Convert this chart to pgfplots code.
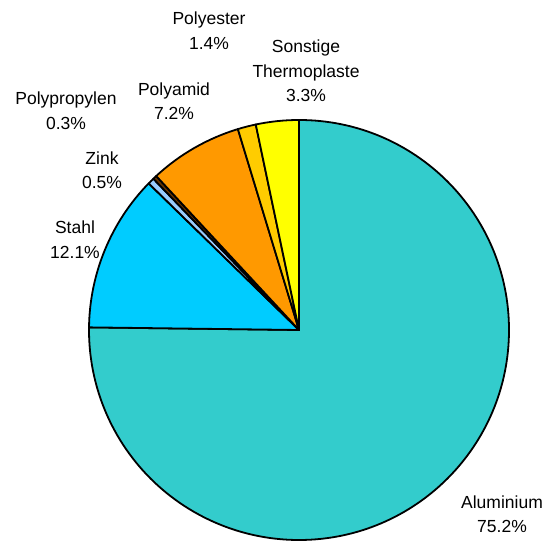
\documentclass[border=0pt]{standalone}
\usepackage{pgfplots}
\pgfplotsset{compat=1.18}
\usepackage{pgfplotstable}
\usepackage{fontspec}
\setmainfont{Liberation Sans}
\definecolor{cAl}{HTML}{33CCCC}
\definecolor{cSt}{HTML}{00CCFF}
\definecolor{cZn}{HTML}{99CCFF}
\definecolor{cPP}{HTML}{663300}
\definecolor{cPA}{HTML}{FF9900}
\definecolor{cPE}{HTML}{FFCC00}
\definecolor{cSo}{HTML}{FFFF00}
\pgfplotstableread{
name value
Aluminium 75.2
Stahl 12.1
Zink 0.5
Polypropylen 0.3
Polyamid 7.2
Polyester 1.4
Sonstige 3.3
}\piedata
\newcommand\getval[2]{\pgfplotstablegetelem{#1}{value}\of\piedata\global\let#2\pgfplotsretval}
\getval{0}\vA\getval{1}\vB\getval{2}\vC\getval{3}\vD\getval{4}\vE\getval{5}\vF\getval{6}\vG
\pgfmathsetmacro\aA{90}
\pgfmathsetmacro\aB{\aA-3.6*\vA}
\pgfmathsetmacro\aC{\aB-3.6*\vB}
\pgfmathsetmacro\aD{\aC-3.6*\vC}
\pgfmathsetmacro\aE{\aD-3.6*\vD}
\pgfmathsetmacro\aF{\aE-3.6*\vE}
\pgfmathsetmacro\aG{\aF-3.6*\vF}
\pgfmathsetmacro\aH{\aG-3.6*\vG}
\begin{document}
\begin{tikzpicture}
\begin{axis}[x=1bp, y=1bp, xmin=0, xmax=551, ymin=0, ymax=542,
  hide axis, clip=false, scale only axis]
\coordinate (bbsw) at (axis cs:0,0);
\coordinate (bbne) at (axis cs:551,542);
\def\wedge#1#2#3{\filldraw[fill=#1, draw=black, line width=1.8bp, line join=round]
  (axis cs:299,212) -- ++(#2:210bp) arc[start angle=#2, end angle=#3, radius=210bp] -- cycle;}
\wedge{cAl}{\aA}{\aB}
\wedge{cSt}{\aB}{\aC}
\wedge{cZn}{\aC}{\aD}
\wedge{cPP}{\aD}{\aE}
\wedge{cPA}{\aE}{\aF}
\wedge{cPE}{\aF}{\aG}
\wedge{cSo}{\aG}{\aH}
\tikzset{lab/.style={align=center, font=\fontsize{17.5bp}{24.5bp}\selectfont, anchor=center, inner sep=0pt}}
\node[lab] at (axis cs:502,28) {Aluminium\\\vA\%};
\node[lab] at (axis cs:75,302.5) {Stahl\\\vB\%};
\node[lab] at (axis cs:102,371.5) {Zink\\\vC\%};
\node[lab] at (axis cs:66,431) {Polypropylen\\\vD\%};
\node[lab] at (axis cs:174,441) {Polyamid\\\vE\%};
\node[lab] at (axis cs:209,511.5) {Polyester\\\vF\%};
\node[lab] at (axis cs:306,471) {Sonstige\\Thermoplaste\\\vG\%};
\end{axis}
\pgfresetboundingbox
\useasboundingbox (bbsw) rectangle (bbne);
\end{tikzpicture}
\end{document}
